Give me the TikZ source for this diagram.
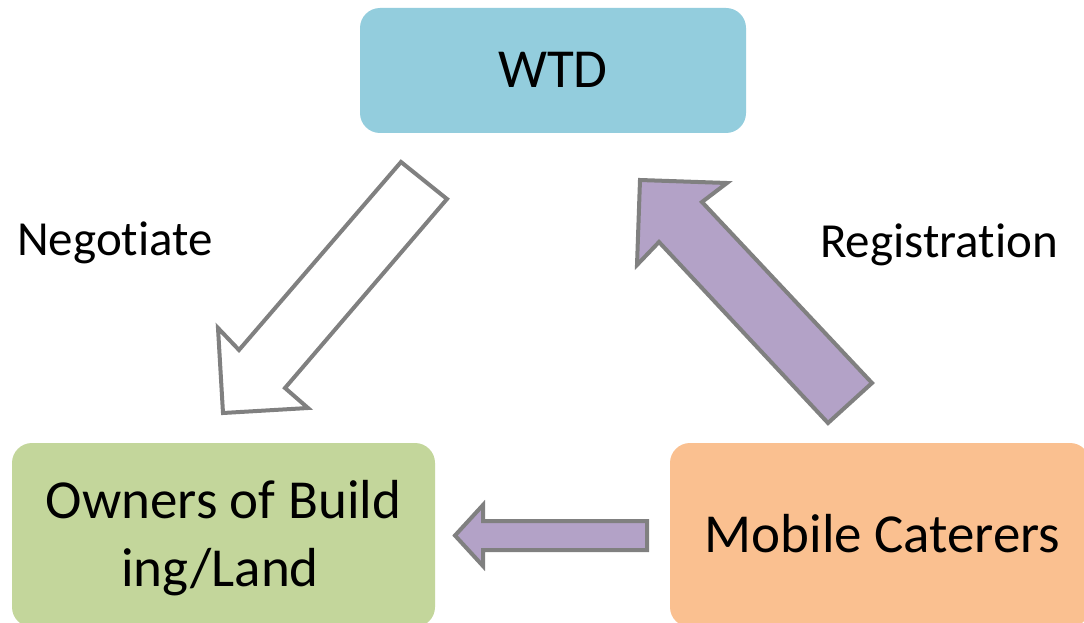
\documentclass[tikz,border=0pt]{standalone}
\usepackage{fontspec}
\setmainfont{Carlito}[RawFeature=-liga]
\definecolor{wtdblue}{HTML}{93CDDD}
\definecolor{owngreen}{HTML}{C3D69B}
\definecolor{moborange}{HTML}{FAC090}
\definecolor{arrpurple}{HTML}{B3A2C7}
\definecolor{arrgrey}{HTML}{808080}
\tikzset{
  boxnode/.style={rounded corners=20pt, inner sep=0pt, draw=none},
  bigtext/.style={font=\fontsize{55}{68}\selectfont, inner sep=0pt, anchor=base},
  labtext/.style={font=\fontsize{49}{58}\selectfont, inner sep=0pt, anchor=base},
  blockarrow/.style={draw=arrgrey, line width=4pt, line join=miter},
}
\begin{document}
\begin{tikzpicture}[x=1pt,y=-1pt]
\useasboundingbox (0,0) rectangle (1084,623);
\fill[white] (0,0) rectangle (1084,623);
% boxes
\node[boxnode, fill=wtdblue, minimum width=386pt, minimum height=125pt] (wtd) at (553,70.5) {};
\node[boxnode, fill=owngreen, minimum width=423pt, minimum height=184pt] (own) at (223.5,535) {};
\node[boxnode, fill=moborange, minimum width=420pt, minimum height=184pt] (mob) at (880,535) {};
% texts
\node[bigtext] (wtdt) at (553,88) {WTD};
\node[bigtext] (own1) at (223.5,518) {Owners of Build};
\node[bigtext] (own2) at (220,586) {ing/Land};
\node[bigtext] (mobt) at (882.5,552) {Mobile Caterers};
\node[labtext] (neg) at (115,255) {Negotiate};
\node[labtext] (reg) at (939,257) {Registration};
% arrows
\draw[blockarrow, fill=white] (401,162) -- (447,199) -- (285,388) -- (308,408) -- (223,413) -- (218,328) -- (239,350) -- cycle;
\draw[blockarrow, fill=arrpurple] (828,423) -- (872,383) -- (702,202) -- (727,183) -- (640,180) -- (637,265) -- (659,242) -- cycle;
\draw[blockarrow, fill=arrpurple] (455,535.5) -- (483,505) -- (483,521) -- (647,521) -- (647,550) -- (483,550) -- (483,566) -- cycle;
\end{tikzpicture}
\end{document}
